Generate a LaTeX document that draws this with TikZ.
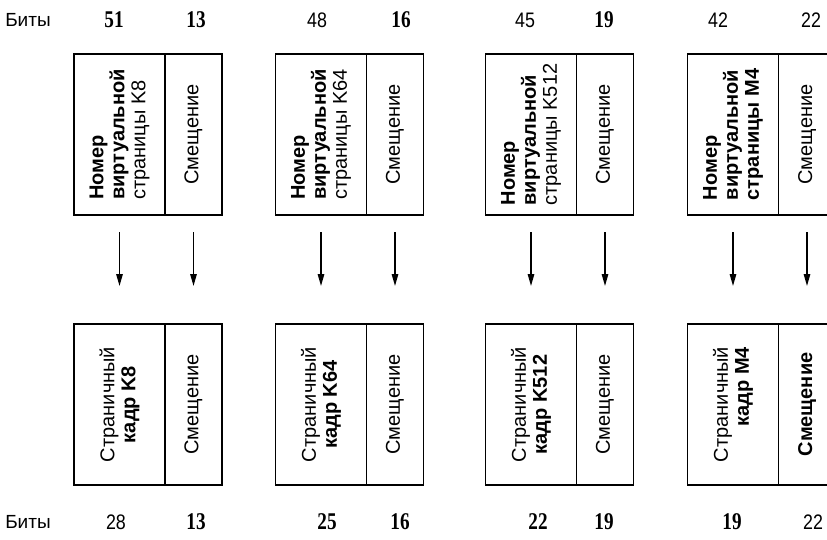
\documentclass[tikz,border=0pt]{standalone}
\usepackage{fontspec}
\setmainfont{Liberation Sans}
\newfontfamily\numfont{Liberation Serif}
\usetikzlibrary{positioning,arrows.meta}

\tikzset{
  cell/.style={draw, line width=1.8pt, inner sep=0pt, outer sep=0pt, minimum height=161pt},
  lcell/.style={cell, minimum width=91pt},
  rcell/.style={cell, minimum width=57pt},
  celltext/.style={rotate=90, inner sep=0pt, font=\fontsize{20}{21}\selectfont},
  bitsword/.style={font=\fontsize{19}{20}\selectfont},
  numsans/.style={font=\fontsize{21}{22}\selectfont, xscale=0.85},
  numserif/.style={font=\numfont\bfseries\fontsize{24}{24}\selectfont, xscale=0.8},
  down/.style={-{Triangle[length=12pt,width=6.5pt]}, line width=1.4pt,
    shorten <=17pt, shorten >=38pt}
}

\begin{document}
\begin{tikzpicture}[x=1pt, y=-1pt]
  \path[use as bounding box, clip] (0,0) rectangle (827,540);
  % bit widths, top row
  \node[bitsword] (bitstop) at (28,20) {Биты};
  \node[numserif] (v1) at (114,20) {51};
  \node[numserif] (o1) at (196,20) {13};
  \node[numsans]  (v2) at (317,20) {48};
  \node[numserif] (o2) at (401,20) {16};
  \node[numsans]  (v3) at (525,20) {45};
  \node[numserif] (o3) at (604,20) {19};
  \node[numsans]  (v4) at (718,20) {42};
  \node[numsans]  (o4) at (811,20) {22};
  % virtual addresses
  \node[lcell] (t1a) at (119.5,134.5) {};
  \node[rcell, right=0pt of t1a] (t1b) {};
  \node[lcell] (t2a) at (321,134.5) {};
  \node[rcell, right=0pt of t2a] (t2b) {};
  \node[lcell] (t3a) at (531,134.5) {};
  \node[rcell, right=0pt of t3a] (t3b) {};
  \node[lcell] (t4a) at (733,134.5) {};
  \node[rcell, right=0pt of t4a] (t4b) {};
  \node[celltext, align=left] (t1atext) at (t1a) {\textbf{Номер}\\\textbf{виртуальной}\\страницы K8};
  \node[celltext] (t1btext) at (t1b) {Смещение};
  \node[celltext, align=left] (t2atext) at (t2a) {\textbf{Номер}\\\textbf{виртуальной}\\страницы K64};
  \node[celltext] (t2btext) at (t2b) {Смещение};
  \node[celltext, align=left] (t3atext) at (t3a) {\textbf{Номер}\\\textbf{виртуальной}\\страницы K512};
  \node[celltext] (t3btext) at (t3b) {Смещение};
  \node[celltext, align=left] (t4atext) at (t4a) {\textbf{Номер}\\\textbf{виртуальной}\\\textbf{страницы M4}};
  \node[celltext] (t4btext) at (t4b) {Смещение};
  % physical addresses
  \node[lcell] (b1a) at (119.5,404.5) {};
  \node[rcell, right=0pt of b1a] (b1b) {};
  \node[lcell] (b2a) at (321,404.5) {};
  \node[rcell, right=0pt of b2a] (b2b) {};
  \node[lcell] (b3a) at (531,404.5) {};
  \node[rcell, right=0pt of b3a] (b3b) {};
  \node[lcell] (b4a) at (733,404.5) {};
  \node[rcell, right=0pt of b4a] (b4b) {};
  \node[celltext, align=center] (b1atext) at (b1a) {Страничный\\\textbf{кадр K8}};
  \node[celltext] (b1btext) at (b1b) {Смещение};
  \node[celltext, align=center] (b2atext) at (b2a) {Страничный\\\textbf{кадр K64}};
  \node[celltext] (b2btext) at (b2b) {Смещение};
  \node[celltext, align=center] (b3atext) at (b3a) {Страничный\\\textbf{кадр K512}};
  \node[celltext] (b3btext) at (b3b) {Смещение};
  \node[celltext, align=right] (b4atext) at (b4a) {Страничный\\\textbf{кадр M4}};
  \node[celltext] (b4btext) at (b4b) {\textbf{Смещение}};
  % translation arrows
  \draw[down] (t1a) -- (b1a);
  \draw[down] (t1b) -- (b1b);
  \draw[down] (t2a) -- (b2a);
  \draw[down] (t2b) -- (b2b);
  \draw[down] (t3a) -- (b3a);
  \draw[down] (t3b) -- (b3b);
  \draw[down] (t4a) -- (b4a);
  \draw[down] (t4b) -- (b4b);
  % bit widths, bottom row
  \node[bitsword] (bitsbot) at (28,522) {Биты};
  \node[numsans]  (f1) at (116,522) {28};
  \node[numserif] (p1) at (196,522) {13};
  \node[numserif] (f2) at (327,522) {25};
  \node[numserif] (p2) at (400,522) {16};
  \node[numserif] (f3) at (538,522) {22};
  \node[numserif] (p3) at (604,522) {19};
  \node[numserif] (f4) at (732,522) {19};
  \node[numsans]  (p4) at (813,522) {22};
\end{tikzpicture}
\end{document}
